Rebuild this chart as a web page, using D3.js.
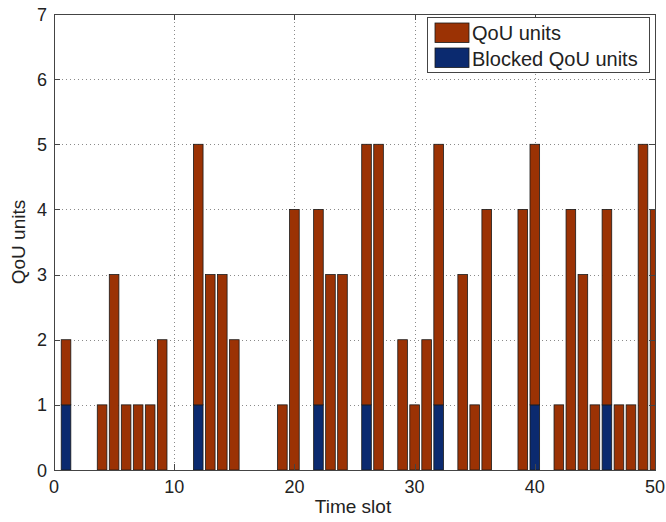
<!DOCTYPE html>
<html>
<head>
<meta charset="utf-8">
<script src="https://cdn.jsdelivr.net/npm/d3@7"></script>
<style>
  body { margin: 0; background: #fff; }
  svg { font-family: "Liberation Sans", Arial, Helvetica, sans-serif; }
  .tick-label { font-size: 18px; fill: #222; }
  .axis-label { font-size: 19px; fill: #222; }
  .legend-text { font-size: 20px; fill: #222; }
</style>
</head>
<body>
<div id="chart"></div>
<script>
// time slots that carry any QoU units
const slots = [1, 4, 5, 6, 7, 8, 9, 12, 13, 14, 15, 19, 20, 22, 23, 24, 26, 27,
  29, 30, 31, 32, 34, 35, 36, 39, 40, 42, 43, 44, 45, 46, 47, 48, 49, 50];
// total units per slot (top of the stacked bar)
const totalUnits = [2, 1, 3, 1, 1, 1, 2, 5, 3, 3, 2, 1, 4, 4, 3, 3, 5, 5,
  2, 1, 2, 5, 3, 1, 4, 4, 5, 1, 4, 3, 1, 4, 1, 1, 5, 4];
// blocked units per slot (bottom segment)
const blockedUnits = [1, 0, 0, 0, 0, 0, 0, 1, 0, 0, 0, 0, 0, 1, 0, 0, 1, 0,
  0, 0, 0, 1, 0, 0, 0, 0, 1, 0, 0, 0, 0, 1, 0, 0, 0, 0];

const xTicks = [0, 10, 20, 30, 40, 50];
const yTicks = [0, 1, 2, 3, 4, 5, 6, 7];
const seriesNames = ['Blocked QoU units', 'QoU units'];
const colors = { blocked: '#0b2a6f', qou: '#9b3204' };

const width = 666;
const height = 522;
const plot = { left: 54, right: 655, top: 14, bottom: 470 };

const rows = slots.map((s, i) => ({
  slot: s,
  blocked: blockedUnits[i],
  qou: totalUnits[i] - blockedUnits[i],
}));

const x = d3.scaleLinear().domain([0, 50]).range([plot.left, plot.right]);
const y = d3.scaleLinear().domain([0, 7]).range([plot.bottom, plot.top]);
const barW = x(0.8) - x(0);

const svg = d3.select('#chart').append('svg')
  .attr('width', width)
  .attr('height', height);

svg.append('defs').append('clipPath').attr('id', 'clip')
  .append('rect')
  .attr('x', plot.left).attr('y', plot.top)
  .attr('width', plot.right - plot.left)
  .attr('height', plot.bottom - plot.top);

// grid
const grid = svg.append('g').attr('stroke', '#8a8a8a').attr('stroke-width', 1)
  .attr('stroke-dasharray', '1,3');
grid.selectAll('.gx').data(xTicks.slice(1, -1)).enter().append('line')
  .attr('x1', (d) => Math.round(x(d)) + 0.5).attr('x2', (d) => Math.round(x(d)) + 0.5)
  .attr('y1', plot.top).attr('y2', plot.bottom);
grid.selectAll('.gy').data(yTicks.slice(1, -1)).enter().append('line')
  .attr('y1', (d) => Math.round(y(d)) + 0.5).attr('y2', (d) => Math.round(y(d)) + 0.5)
  .attr('x1', plot.left).attr('x2', plot.right);

// stacked bars
const stack = d3.stack().keys(['blocked', 'qou'])(rows);

svg.append('g').attr('clip-path', 'url(#clip)')
  .selectAll('g')
  .data(stack)
  .enter()
  .append('g')
  .attr('fill', (d) => colors[d.key])
  .selectAll('rect')
  .data((d) => d.filter((p) => p[1] > p[0]))
  .enter()
  .append('rect')
  .attr('x', (d) => x(d.data.slot) - barW / 2)
  .attr('y', (d) => y(d[1]))
  .attr('width', barW)
  .attr('height', (d) => y(d[0]) - y(d[1]))
  .attr('stroke', '#1a1a1a')
  .attr('stroke-width', 0.8);

// axes box
const axisColor = '#444';
svg.append('rect')
  .attr('x', plot.left + 0.5).attr('y', plot.top + 0.5)
  .attr('width', plot.right - plot.left).attr('height', plot.bottom - plot.top)
  .attr('fill', 'none').attr('stroke', axisColor).attr('stroke-width', 1);

const tickLen = 6;
const ticks = svg.append('g').attr('stroke', axisColor).attr('stroke-width', 1);
xTicks.forEach((t) => {
  const px = Math.round(x(t)) + 0.5;
  ticks.append('line').attr('x1', px).attr('x2', px)
    .attr('y1', plot.bottom).attr('y2', plot.bottom - tickLen);
  ticks.append('line').attr('x1', px).attr('x2', px)
    .attr('y1', plot.top).attr('y2', plot.top + tickLen);
});
yTicks.forEach((t) => {
  const py = Math.round(y(t)) + 0.5;
  ticks.append('line').attr('y1', py).attr('y2', py)
    .attr('x1', plot.left).attr('x2', plot.left + tickLen);
  ticks.append('line').attr('y1', py).attr('y2', py)
    .attr('x1', plot.right).attr('x2', plot.right - tickLen);
});

// tick labels
svg.selectAll('.xl').data(xTicks).enter().append('text')
  .attr('class', 'tick-label')
  .attr('x', (d) => x(d))
  .attr('y', plot.bottom + 23)
  .attr('text-anchor', 'middle')
  .text((d) => d);
svg.selectAll('.yl').data(yTicks).enter().append('text')
  .attr('class', 'tick-label')
  .attr('x', plot.left - 7)
  .attr('y', (d) => y(d) + 6.5)
  .attr('text-anchor', 'end')
  .text((d) => d);

// axis labels
svg.append('text').attr('class', 'axis-label')
  .attr('x', 353)
  .attr('y', 513)
  .attr('text-anchor', 'middle')
  .text('Time slot');
svg.append('text').attr('class', 'axis-label')
  .attr('transform', `translate(25, ${(plot.top + plot.bottom) / 2}) rotate(-90)`)
  .attr('text-anchor', 'middle')
  .text('QoU units');

// legend
const legend = svg.append('g').attr('transform', 'translate(428, 18)');
legend.append('rect')
  .attr('x', -0.5).attr('y', -0.5).attr('width', 222).attr('height', 55)
  .attr('fill', '#fff').attr('stroke', axisColor);
const legendItems = [
  { name: seriesNames[1], color: colors.qou },
  { name: seriesNames[0], color: colors.blocked },
];
legendItems.forEach((item, i) => {
  legend.append('rect')
    .attr('x', 7).attr('y', 5 + i * 25)
    .attr('width', 34).attr('height', 19.5)
    .attr('fill', item.color)
    .attr('stroke', '#1a1a1a').attr('stroke-width', 0.8);
  legend.append('text').attr('class', 'legend-text')
    .attr('x', 44).attr('y', 21.5 + i * 26.5)
    .text(item.name);
});
</script>
</body>
</html>
